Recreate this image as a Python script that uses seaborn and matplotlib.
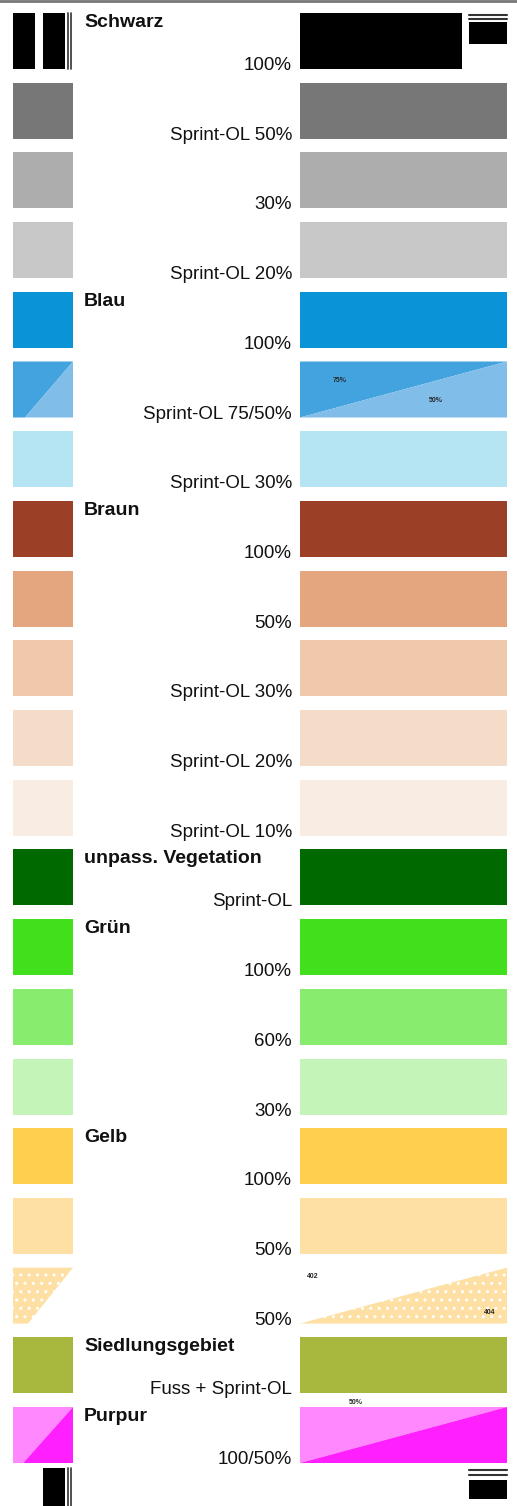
import numpy as np
import pandas as pd
import matplotlib.pyplot as plt
import seaborn as sns

# colour table rows #
groups = ["Schwarz", "", "", "", "Blau", "", "", "Braun", "", "", "", "",
          "unpass. Vegetation", "Grün", "", "", "Gelb", "", "",
          "Siedlungsgebiet", "Purpur"]
sublabels = ["100%", "Sprint-OL 50%", "30%", "Sprint-OL 20%", "100%",
             "Sprint-OL 75/50%", "Sprint-OL 30%", "100%", "50%",
             "Sprint-OL 30%", "Sprint-OL 20%", "Sprint-OL 10%", "Sprint-OL",
             "100%", "60%", "30%", "100%", "50%", "50%",
             "Fuss + Sprint-OL", "100/50%"]
colors = ["#000000", "#777777", "#adadad", "#c8c8c8", "#0a93d6",
          "#80bde8", "#b5e5f2", "#9b3f27", "#e4a67e", "#f0c8ab",
          "#f5dcc8", "#f9ede3", "#006a00", "#42e01c", "#88ec6e",
          "#c4f4b8", "#ffd04f", "#fee0a5", "#ffffff", "#a8b83e", "#ff1fff"]
left_widths = [0, 1, 1, 1, 1, 0, 1, 1, 1, 1, 1, 1, 1, 1, 1, 1, 1, 1, 0, 1, 0]
right_widths = [0.783, 1, 1, 1, 1, 0, 1, 1, 1, 1, 1, 1, 1, 1, 1, 1, 1, 1, 0, 1, 0]

# split swatches: row -> (upper colour, lower colour, left x0, right x0, dotted)
splits = {
    5: ("#43a3de", "#80bde8", 0.2, 0.0, False),
    18: ("#fee0a5", None, 0.25, 0.0, True),
    20: ("#ff88ff", "#ff1fff", 0.17, 0.0, False),
}

n = len(colors)
keys = [f"r{i:02d}" for i in range(n)]
df = pd.DataFrame({"key": keys, "left": left_widths, "right": right_widths,
                   "color": colors})
palette = dict(zip(keys, colors))

sns.set_theme(style="white")
plt.rcParams["font.family"] = ["Liberation Sans", "DejaVu Sans"]
plt.rcParams["hatch.linewidth"] = 1.0

W, H = 517, 1506
pitch, top0, sw_h = 69.7, 13, 56
fig = plt.figure(figsize=(W / 100, H / 100), dpi=100)
fig.patch.set_facecolor("white")

# overlay axes in pixel coordinates (labels, marks) #
bg = fig.add_axes([0, 0, 1, 1])
bg.set_xlim(0, W)
bg.set_ylim(H, 0)
bg.axis("off")
bg.set_zorder(10)

hw = sw_h / pitch / 2
y_top = top0 + sw_h / 2 - pitch / 2
y_bot = top0 + sw_h / 2 + (n - 0.5) * pitch


def col_axes(x0, x1):
    ax = fig.add_axes([x0 / W, 1 - y_bot / H, (x1 - x0) / W, (y_bot - y_top) / H])
    ax.set_facecolor("none")
    return ax


for ax, col in [(col_axes(13, 73), "left"), (col_axes(300, 507), "right")]:
    sns.barplot(data=df, x=col, y="key", hue="key", palette=palette,
                saturation=1, width=sw_h / pitch, orient="h", errorbar=None,
                legend=False, linewidth=0, ax=ax)
    for i, (up, low, lx0, rx0, dotted) in splits.items():
        t, b = i - hw, i + hw
        d0 = lx0 if col == "left" else rx0
        upper = [(0, t), (1, t), (d0, b), (0, b)]
        lower = [(d0, b), (1, t), (1, b)]
        if dotted:
            poly = upper if col == "left" else lower
            ax.fill(*zip(*poly), facecolor=up, edgecolor="white",
                    hatch="..", linewidth=0)
        else:
            ax.fill(*zip(*upper), color=up, linewidth=0)
            ax.fill(*zip(*lower), color=low, linewidth=0)
    ax.set_xlim(0, 1)
    ax.set_ylim(n - 0.5, -0.5)
    ax.axis("off")

# labels #
for i in range(n):
    t = top0 + i * pitch
    if groups[i]:
        bg.text(84, t + 14, groups[i], fontsize=14, fontweight="bold",
                color="#111111", va="baseline", ha="left")
    bg.text(292, t + sw_h + 1, sublabels[i], fontsize=13.5,
            color="#111111", va="baseline", ha="right")

# small swatch notes #
bg.text(340, 380, "75%", fontsize=5, fontweight="bold", ha="center", va="center")
bg.text(436, 400, "50%", fontsize=5, fontweight="bold", ha="center", va="center")
bg.text(313, 1277, "402", fontsize=5, fontweight="bold", ha="center", va="center")
bg.text(490, 1313, "404", fontsize=5, fontweight="bold", ha="center", va="center")
bg.text(356, 1402, "50%", fontsize=5, fontweight="bold", ha="center", va="center")

# top rule and registration marks #
bg.plot([0, W], [1, 1], color="#777777", lw=2)
bg.fill_between([13, 35], 13, 69, color="black", lw=0)
bg.fill_between([43, 65], 13, 69, color="black", lw=0)
bg.fill_between([43, 65], 1468, H, color="black", lw=0)
for x in (67.5, 70.5):
    bg.plot([x, x], [13, 69], color="#333333", lw=1.2)
    bg.plot([x, x], [1468, H], color="#333333", lw=1.2)
bg.fill_between([469, 507], 22, 44, color="black", lw=0)
bg.fill_between([469, 507], 1480, 1499, color="black", lw=0)
for y in (14.5, 18.5):
    bg.plot([469, 507], [y, y], color="#333333", lw=1.5)
for y in (1469.5, 1475):
    bg.plot([469, 507], [y, y], color="#333333", lw=1.5)

plt.savefig("out.png", dpi=100, facecolor="white")
